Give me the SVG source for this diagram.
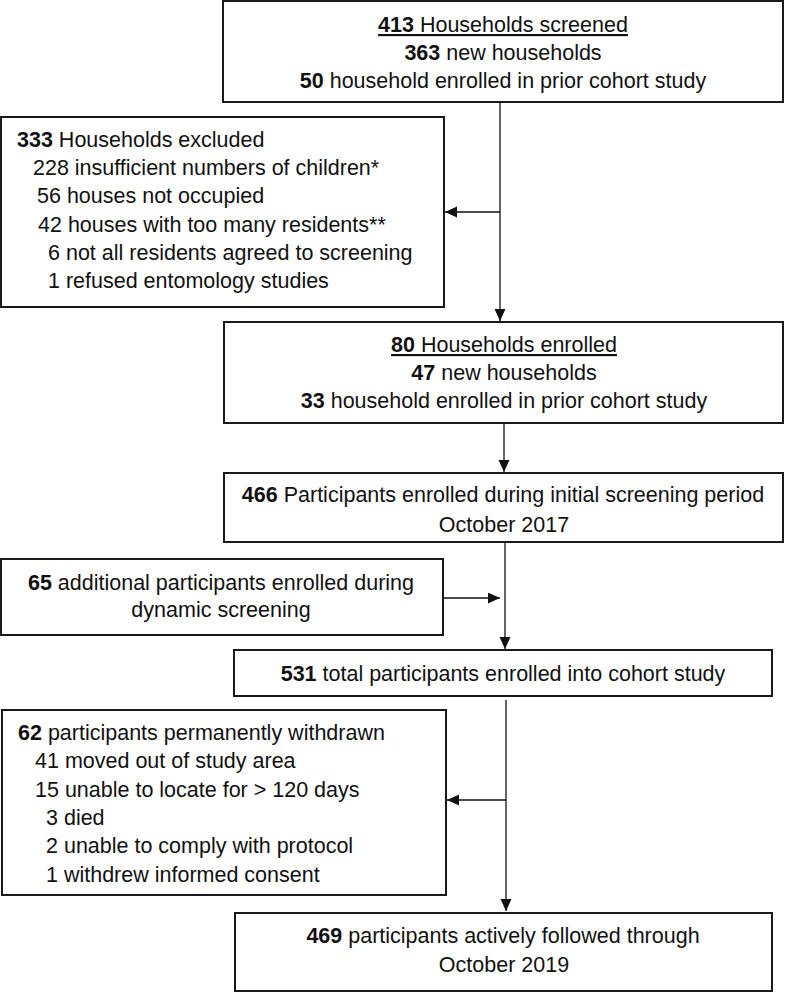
<svg xmlns="http://www.w3.org/2000/svg" width="785" height="992" viewBox="0 0 785 992">
<defs>
<marker id="arr" markerUnits="userSpaceOnUse" markerWidth="14" markerHeight="12" refX="12" refY="5.5" orient="auto">
<path d="M0,0 L12,5.5 L0,11 Z" fill="#111"/>
</marker>
<style>
.box{fill:#fff;stroke:#1a1a1a;stroke-width:2}
.t{font-family:"Liberation Sans",Arial,sans-serif;font-size:21.5px;fill:#111}
.c{text-anchor:middle}
.b{font-weight:bold}
.conn line{stroke:#111;stroke-width:1.3;marker-end:url(#arr)}
.conn line.plain{marker-end:none}
</style>
</defs>
<rect width="785" height="992" fill="#fff"/>
<g id="n1">
<rect class="box" x="223" y="1" width="560" height="101"/>
<text class="t c" x="503" y="32" text-decoration="underline"><tspan class="b">413</tspan> Households screened</text>
<text class="t c" x="503" y="60"><tspan class="b">363</tspan> new households</text>
<text class="t c" x="503" y="88"><tspan class="b">50</tspan> household enrolled in prior cohort study</text>
</g>
<g id="n2">
<rect class="box" x="1" y="117" width="443" height="190"/>
<text class="t" x="17" y="147"><tspan class="b">333</tspan> Households excluded</text>
<text class="t" x="33" y="175">228 insufficient numbers of children*</text>
<text class="t" x="37" y="203">56 houses not occupied</text>
<text class="t" x="38" y="232">42 houses with too many residents**</text>
<text class="t" x="48" y="260">6 not all residents agreed to screening</text>
<text class="t" x="48" y="288">1 refused entomology studies</text>
</g>
<g id="n3">
<rect class="box" x="224" y="322" width="559" height="101"/>
<text class="t c" x="504" y="352" text-decoration="underline"><tspan class="b">80</tspan> Households enrolled</text>
<text class="t c" x="504" y="380"><tspan class="b">47</tspan> new households</text>
<text class="t c" x="504" y="408"><tspan class="b">33</tspan> household enrolled in prior cohort study</text>
</g>
<g id="n4">
<rect class="box" x="224" y="473" width="559" height="69"/>
<text class="t c" x="503" y="502"><tspan class="b">466</tspan> Participants enrolled during initial screening period</text>
<text class="t c" x="504" y="532">October 2017</text>
</g>
<g id="n5">
<rect class="box" x="1" y="559" width="442" height="76"/>
<text class="t c" x="221" y="590"><tspan class="b">65</tspan> additional participants enrolled during</text>
<text class="t c" x="221" y="617">dynamic screening</text>
</g>
<g id="n6">
<rect class="box" x="234" y="650" width="538" height="46"/>
<text class="t c" x="503" y="681"><tspan class="b">531</tspan> total participants enrolled into cohort study</text>
</g>
<g id="n7">
<rect class="box" x="2" y="710" width="444" height="185"/>
<text class="t" x="18" y="740"><tspan class="b">62</tspan> participants permanently withdrawn</text>
<text class="t" x="35" y="768">41 moved out of study area</text>
<text class="t" x="35" y="797">15 unable to locate for &gt; 120 days</text>
<text class="t" x="46" y="825">3 died</text>
<text class="t" x="46" y="853">2 unable to comply with protocol</text>
<text class="t" x="46" y="882">1 withdrew informed consent</text>
</g>
<g id="n8">
<rect class="box" x="235" y="913" width="537" height="78"/>
<text class="t c" x="503" y="943"><tspan class="b">469</tspan> participants actively followed through</text>
<text class="t c" x="504" y="972">October 2019</text>
</g>
<g id="connectors" class="conn">
<line x1="500" y1="102" x2="500" y2="321"/>
<line x1="500" y1="212" x2="445" y2="212"/>
<line x1="504" y1="423" x2="504" y2="472"/>
<line x1="443" y1="598" x2="500" y2="598"/>
<line x1="505" y1="542" x2="505" y2="649"/>
<line x1="506" y1="700" x2="506" y2="911"/>
<line x1="506" y1="800" x2="447" y2="800"/>
</g>
</svg>
